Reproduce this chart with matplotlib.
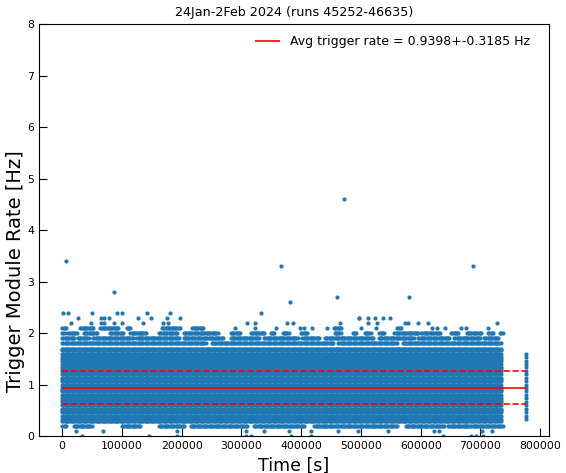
import numpy as np
import matplotlib

matplotlib.use("Agg")
import matplotlib.pyplot as plt

# trigger module rates, Hz; every row of the main block is sampled over the run period
run_start = 0
run_end = 735000
sample_step = 2000

dense_rates = [
    0.3, 0.333, 0.4, 0.467, 0.5, 0.533, 0.6, 0.667, 0.7, 0.733, 0.8, 0.867,
    0.9, 0.933, 1.0, 1.067, 1.1, 1.133, 1.2, 1.267, 1.3, 1.333, 1.4, 1.467,
    1.5, 1.533, 1.6, 1.667, 1.7,
]

# rows that are only filled in part of the period: (start, end) in seconds
partial_rates = [1.8, 1.9, 2.0, 2.1, 0.2]
partial_spans = [
    [(0, 240000), (250000, 455000), (462000, 560000), (570000, 735000)],
    [(0, 20000), (26000, 45000), (52000, 118000), (124000, 196000), (203000, 270000),
     (282000, 330000), (338000, 395000), (402000, 430000), (440000, 520000),
     (530000, 588000), (596000, 648000), (656000, 700000), (706000, 730000)],
    [(0, 4000), (10000, 24000), (36000, 58000), (80000, 103000), (114000, 141000),
     (162000, 192000), (204000, 260000), (282100, 299000), (316000, 338000),
     (349000, 355000), (369000, 380000), (400000, 411000), (456000, 467000),
     (486000, 492000), (506000, 517000), (531000, 540000), (556000, 596000),
     (601000, 634000), (651000, 663000), (677000, 702000), (713000, 721000),
     (733000, 738000)],
    [(400, 6600), (30000, 52000), (64000, 94000), (108000, 114000), (167000, 198000),
     (218000, 237000), (455000, 467000), (561000, 567000)],
    [(400, 7700), (19000, 49700), (100000, 131000), (161700, 203700), (214900, 310000),
     (321000, 405000), (422000, 560000), (575000, 640000), (646000, 682000),
     (685000, 738000)],
]

# isolated readings
single_times = [
    1000, 10400, 49700, 91700, 100100, 142100, 180000, 332500,
    27200, 65400, 70400, 77600, 126300, 149400, 175700, 196900, 496000, 511700,
    537000, 496000, 524000, 549000,
    15000, 48000, 65400, 70400, 86000, 100100, 135500, 169000, 176800, 310000,
    322000, 377000, 386000, 464100, 511700, 527400, 573200, 578900, 595000,
    612000, 727300,
    290000, 322000, 358000, 398000, 405000, 418000, 443000, 500000, 525000,
    627000, 618100, 640500, 713300, 668000, 676000,
    23400, 68200, 192500, 307000, 338000, 379000, 416000, 461000, 495000,
    545000, 623000, 631000, 702000, 719000,
    32900, 144900, 192500, 307000, 316000, 383000, 416000, 637000, 685000,
    693000, 705000,
    6500, 86000, 367000, 381000, 460200, 472400, 580600, 688100,
]
single_rates = [
    2.4, 2.4, 2.4, 2.4, 2.4, 2.4, 2.4, 2.4,
    2.3, 2.3, 2.3, 2.3, 2.3, 2.3, 2.3, 2.3, 2.3, 2.3,
    2.3, 2.3, 2.3, 2.3,
    2.2, 2.2, 2.2, 2.2, 2.2, 2.2, 2.2, 2.2, 2.2, 2.2,
    2.2, 2.2, 2.2, 2.2, 2.2, 2.2, 2.2, 2.2, 2.2,
    2.2, 2.2,
    2.1, 2.1, 2.1, 2.1, 2.1, 2.1, 2.1, 2.1, 2.1,
    2.1, 2.1, 2.1, 2.1, 2.1, 2.1,
    0.1, 0.1, 0.1, 0.1, 0.1, 0.1, 0.1, 0.1, 0.1,
    0.1, 0.1, 0.1, 0.1, 0.1,
    0.0, 0.0, 0.0, 0.0, 0.0, 0.0, 0.0, 0.0, 0.0,
    0.0, 0.0,
    3.4, 2.8, 3.3, 2.6, 2.7, 4.6, 2.7, 3.3,
]

# last run, all modules read at one time
last_time = 776000
last_rates = [
    0.333, 0.4, 0.467, 0.533, 0.6, 0.667, 0.733, 0.8, 0.867, 0.933,
    1.0, 1.067, 1.133, 1.2, 1.267, 1.333, 1.4, 1.467, 1.533, 1.6,
]

avg_rate = 0.9398
std_rate = 0.3185


def span_times(start, end):
    return np.arange(start, end + 1, sample_step)


times, rates = [], []
grid = span_times(run_start, run_end)
for r in dense_rates:
    times.append(grid)
    rates.append(np.full(grid.size, r))
for r, spans in zip(partial_rates, partial_spans):
    for a, b in spans:
        t = span_times(a, b)
        times.append(t)
        rates.append(np.full(t.size, r))
times.append(np.array(single_times))
rates.append(np.array(single_rates))
times.append(np.full(len(last_rates), last_time))
rates.append(np.array(last_rates))
times = np.concatenate(times)
rates = np.concatenate(rates)

fig = plt.figure(figsize=(5.66, 4.73), dpi=100)
ax = fig.add_axes([0.069, 0.078, 0.901, 0.871])

ax.plot(times, rates, "o", color="#1f77b4", markersize=3.0, markeredgewidth=0)

t0, t1 = times.min(), times.max()
ax.hlines(avg_rate, t0, t1, colors="red", linewidth=1.2,
          label=f"Avg trigger rate = {avg_rate:.4f}+-{std_rate:.4f} Hz")
ax.hlines([avg_rate - std_rate, avg_rate + std_rate], t0, t1, colors="red",
          linewidth=1.2, linestyles="dashed")

ax.set_ylim(0, 8)
ax.set_xticks(np.arange(0, 800001, 100000))
ax.tick_params(direction="in", length=6, labelsize=7.8)
ax.set_title("24Jan-2Feb 2024 (runs 45252-46635)", fontsize=9.2)
ax.set_xlabel("Time [s]", fontsize=12.5)
ax.set_ylabel("Trigger Module Rate [Hz]", fontsize=14)
ax.yaxis.set_label_coords(-0.027, 0.4)
ax.legend(loc="upper right", frameon=False, fontsize=9, bbox_to_anchor=(0.985, 1.0))

fig.savefig("out.png", dpi=100)
